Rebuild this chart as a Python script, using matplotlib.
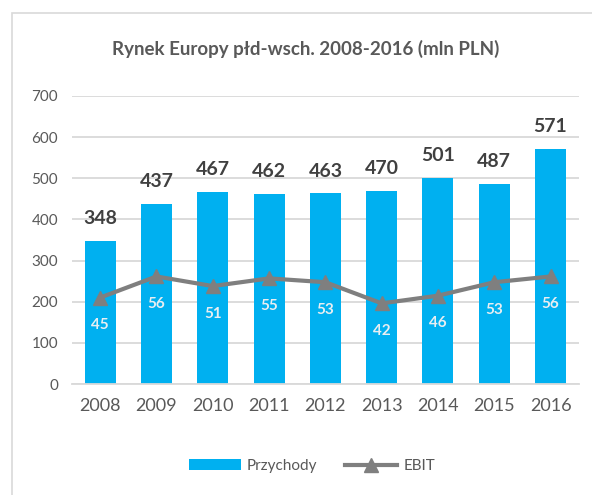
import matplotlib.pyplot as plt
from matplotlib.patches import Rectangle

# Rynek Europy pld-wsch.: przychody (slupki) i EBIT (linia, os pomocnicza)

years = ["2008", "2009", "2010", "2011", "2012", "2013", "2014", "2015", "2016"]
przychody = [348, 437, 467, 462, 463, 470, 501, 487, 571]
ebit = [45, 56, 51, 55, 53, 42, 46, 53, 56]

blue = "#00B0F0"
grey = "#7F7F7F"
text_c = "#595959"
grid_c = "#D9D9D9"

plt.rcParams['font.family'] = ['Lato', 'DejaVu Sans']

fig = plt.figure(figsize=(5.92, 4.95), dpi=100)
ax = fig.add_axes([0.1216, 0.2242, 0.856, 0.582])

x = range(len(years))
bars = ax.bar(x, przychody, width=0.55, color=blue, label="Przychody", zorder=2)
ax.set_xlim(-0.5, len(years) - 0.5)
ax.set_ylim(0, 700)
ax.set_yticks(range(0, 701, 100))
ax.set_xticks(list(x))
ax.set_xticklabels(years)
ax.yaxis.grid(True, color=grid_c, lw=1.3, zorder=0)
ax.set_axisbelow(True)
for s in ["top", "right", "left"]:
    ax.spines[s].set_visible(False)
ax.spines["bottom"].set_color(grid_c)
ax.spines["bottom"].set_linewidth(1.3)
ax.tick_params(axis="both", length=0, colors=text_c)
ax.tick_params(axis="y", labelsize=11, pad=10)
ax.tick_params(axis="x", labelsize=13, pad=10)

for xi, v in zip(x, przychody):
    ax.annotate(str(v), (xi, v), xytext=(0, 16), textcoords="offset points",
                ha="center", va="center", fontsize=14, fontweight="bold",
                color="#404040")

ax2 = ax.twinx()
ax2.set_ylim(0, 150)
ax2.axis("off")
line, = ax2.plot(list(x), ebit, color=grey, lw=3, marker="^", ms=10,
                 label="EBIT", zorder=3)
for xi, v in zip(x, ebit):
    ax2.annotate(str(v), (xi, v), xytext=(0, -20), textcoords="offset points",
                 ha="center", va="center", fontsize=11, fontweight="bold",
                 color="#E8EEF2")

fig.text(0.517, 1 - 49 / 495, "Rynek Europy płd-wsch. 2008-2016 (mln PLN)",
         ha="center", va="center", fontsize=13.5, fontweight="bold", color=text_c)

fig.legend([bars, line], ["Przychody", "EBIT"], loc="center",
           bbox_to_anchor=(0.527, 1 - 466 / 495), ncol=2, frameon=False,
           fontsize=11, labelcolor=text_c, handlelength=3.4, columnspacing=1.8,
           handletextpad=0.4)

fig.patches.append(Rectangle((12 / 592, -0.1), 1.2, 1.1 - 13 / 495,
                             transform=fig.transFigure, fill=False,
                             edgecolor=grid_c, lw=1.2))

fig.savefig("out.png", dpi=100)
